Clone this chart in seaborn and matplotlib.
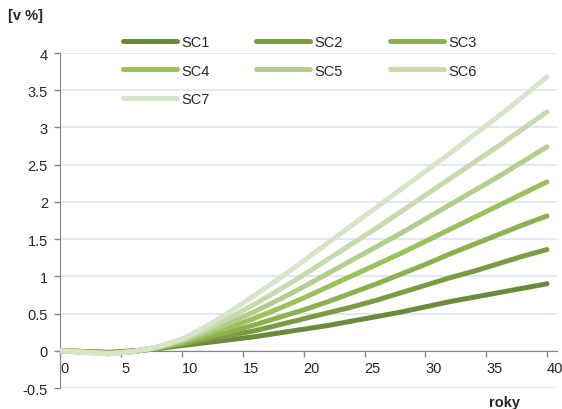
import matplotlib
matplotlib.use('Agg')
import matplotlib.pyplot as plt
import numpy as np
import pandas as pd
import seaborn as sns

# years (x axis)
years = [0, 2, 4, 6, 8, 10, 12, 14, 16, 18, 20, 22, 24, 26, 28, 30, 32, 34, 36, 38, 40]

# scenario values [v %]
sc1 = [0, -0.01, -0.02, 0.00, 0.03, 0.07, 0.11, 0.15, 0.19, 0.24, 0.29, 0.34, 0.40, 0.46, 0.52, 0.59, 0.66, 0.72, 0.78, 0.84, 0.90]
sc2 = [0, -0.01, -0.03, -0.01, 0.03, 0.09, 0.15, 0.21, 0.27, 0.35, 0.43, 0.51, 0.59, 0.68, 0.78, 0.88, 0.98, 1.07, 1.17, 1.27, 1.36]
sc3 = [0, -0.01, -0.03, -0.01, 0.04, 0.10, 0.18, 0.26, 0.35, 0.45, 0.55, 0.66, 0.78, 0.90, 1.03, 1.16, 1.30, 1.43, 1.56, 1.69, 1.81]
sc4 = [0, -0.02, -0.03, -0.01, 0.04, 0.12, 0.22, 0.32, 0.44, 0.57, 0.71, 0.86, 1.01, 1.16, 1.31, 1.47, 1.63, 1.79, 1.95, 2.11, 2.27]
sc5 = [0, -0.02, -0.04, -0.01, 0.05, 0.13, 0.25, 0.38, 0.53, 0.69, 0.86, 1.04, 1.22, 1.40, 1.58, 1.77, 1.96, 2.15, 2.34, 2.54, 2.74]
sc6 = [0, -0.02, -0.04, -0.01, 0.05, 0.15, 0.29, 0.45, 0.63, 0.82, 1.02, 1.23, 1.44, 1.65, 1.87, 2.09, 2.31, 2.53, 2.75, 2.98, 3.21]
sc7 = [0, -0.02, -0.04, -0.01, 0.05, 0.16, 0.33, 0.53, 0.75, 0.97, 1.21, 1.45, 1.69, 1.93, 2.17, 2.41, 2.65, 2.90, 3.15, 3.41, 3.68]

names = ['SC1', 'SC2', 'SC3', 'SC4', 'SC5', 'SC6', 'SC7']
colors = ['#6a8a3c', '#7b9c44', '#8db150', '#9cc15a', '#b2cd8c', '#c7d9ad', '#d8e4c8']

x_ticks = [0, 5, 10, 15, 20, 25, 30, 35, 40]
y_ticks = [-0.5, 0, 0.5, 1, 1.5, 2, 2.5, 3, 3.5, 4]

series = [sc1, sc2, sc3, sc4, sc5, sc6, sc7]
df = pd.concat([pd.DataFrame({'rok': years, 'val': s, 'sc': n}) for n, s in zip(names, series)])

sns.set_style('white')
plt.rcParams['font.family'] = ['Liberation Sans', 'DejaVu Sans']
plt.rcParams['font.size'] = 10.5

fig = plt.figure(figsize=(5.62, 4.10), dpi=100)
ax = fig.add_axes([0.1076, 0.0512, 0.883, 0.817])

ax.set_ylim(-0.5, 4)
ax.set_xlim(0, 40.8)
for y in y_ticks:
    ax.axhline(y, color='#dce6f2', lw=1.2, zorder=0)

sns.lineplot(data=df, x='rok', y='val', hue='sc', palette=colors, lw=3.6,
             solid_capstyle='round', ax=ax, legend=False, zorder=3)

for sp in ['top', 'right']:
    ax.spines[sp].set_visible(False)
ax.spines['left'].set_color('#868686')
ax.spines['bottom'].set_color('#868686')
ax.spines['bottom'].set_position(('data', 0))
ax.spines['bottom'].set_zorder(2)

ax.set_xticks(x_ticks)
ax.set_yticks(y_ticks)
ax.set_yticklabels(['-0.5', '0', '0.5', '1', '1.5', '2', '2.5', '3', '3.5', '4'])
ax.tick_params(axis='both', length=4, width=1, color='#868686', labelsize=10.5,
               direction='out', left=True, bottom=True)
ax.tick_params(axis='y', pad=5)
ax.tick_params(axis='x', pad=3)
plt.setp(ax.get_xticklabels(), ha='left')
ax.set_xlabel('')
ax.set_ylabel('')

fig.text(8 / 562, 1 - 16 / 410, '[v %]', fontweight='bold', fontsize=10.5, va='center', ha='left')
fig.text(505 / 562, 1 - 403 / 410, 'roky', fontweight='bold', fontsize=10.5, va='center', ha='center')

# legend fills column by column: reorder so rows read SC1 SC2 SC3 / SC4 SC5 SC6 / SC7
order = [0, 3, 6, 1, 4, 2, 5]
handles = [plt.Line2D([], [], color=colors[i], lw=3.6, solid_capstyle='round') for i in order]
fig.legend(handles, [names[i] for i in order], loc='upper left',
           bbox_to_anchor=(123 / 562, 1 - 36 / 410),
           ncol=3, frameon=False, borderpad=0, borderaxespad=0, handlelength=3.7,
           handletextpad=0.3, columnspacing=3.2, labelspacing=1.0, fontsize=10.5)

fig.savefig('out.png', dpi=100)
